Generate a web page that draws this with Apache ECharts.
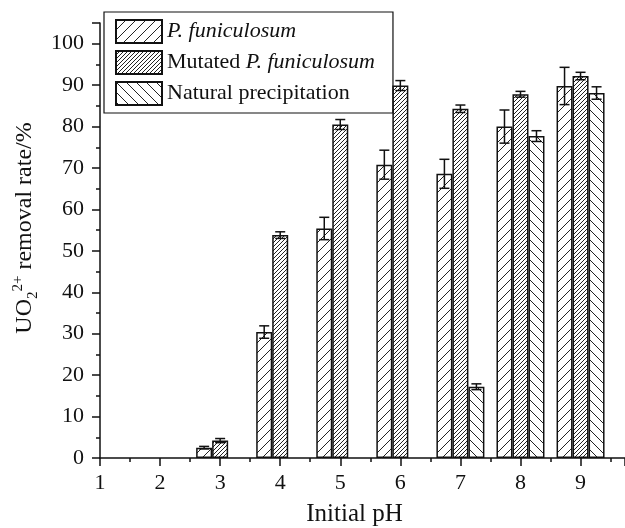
<!DOCTYPE html>
<html>
<head>
<meta charset="utf-8">
<script src="https://cdn.jsdelivr.net/npm/echarts@6/dist/echarts.min.js"></script>
<style>
  html, body { margin: 0; padding: 0; background: #fff; }
  #chart { width: 625px; height: 528px; }
</style>
</head>
<body>
<div id="chart"></div>
<script>
// pH values and removal rates (%), with error bar half-widths
const phFun = [3, 4, 5, 6, 7, 8, 9]
const funMean = [2.5, 30.4, 55.4, 70.8, 68.6, 80.0, 89.8]
const funErr = [0.3, 1.5, 2.7, 3.5, 3.5, 4.0, 4.5]

const phMut = [3, 4, 5, 6, 7, 8, 9]
const mutMean = [4.2, 53.8, 80.5, 89.9, 84.3, 87.8, 92.2]
const mutErr = [0.5, 0.8, 1.2, 1.2, 0.9, 0.7, 0.9]

const phNat = [7, 8, 9]
const natMean = [17.2, 77.7, 88.1]
const natErr = [0.7, 1.3, 1.5]

const names = ['P. funiculosum', 'Mutated P. funiculosum', 'Natural precipitation']
const font = 'Liberation Serif'
const barW = 16

// hatch patterns
function hatch (step, dir) {
  const c = document.createElement('canvas')
  c.width = step
  c.height = step
  const ctx = c.getContext('2d')
  ctx.fillStyle = '#fff'
  ctx.fillRect(0, 0, step, step)
  ctx.strokeStyle = '#222'
  ctx.lineWidth = 1
  ctx.beginPath()
  for (let k = -1; k <= 1; k++) {
    if (dir > 0) {
      ctx.moveTo(k * step, step)
      ctx.lineTo(k * step + step, 0)
    } else {
      ctx.moveTo(k * step, 0)
      ctx.lineTo(k * step + step, step)
    }
  }
  ctx.stroke()
  return { image: c, repeat: 'repeat' }
}

function pairs (xs, ys) {
  return xs.map((x, i) => [x, ys[i]])
}

function errSeries (xs, ys, es, offset) {
  return {
    type: 'custom',
    silent: true,
    z: 5,
    data: xs.map((x, i) => [x, ys[i], es[i]]),
    renderItem: function (params, api) {
      const x = api.value(0)
      const y = api.value(1)
      const e = api.value(2)
      const top = api.coord([x, y + e])
      const bot = api.coord([x, y - e])
      const cx = top[0] + offset
      const hw = 5
      const style = { stroke: '#111', lineWidth: 1.5 }
      return {
        type: 'group',
        children: [
          { type: 'line', shape: { x1: cx, y1: top[1], x2: cx, y2: bot[1] }, style: style },
          { type: 'line', shape: { x1: cx - hw, y1: top[1], x2: cx + hw, y2: top[1] }, style: style },
          { type: 'line', shape: { x1: cx - hw, y1: bot[1], x2: cx + hw, y2: bot[1] }, style: style }
        ]
      }
    }
  }
}

const patterns = [hatch(10, 1), hatch(4, 1), hatch(10, -1)]

const chart = echarts.init(document.getElementById('chart'))
const option = {
  animation: false,
  textStyle: { fontFamily: font },
  grid: { left: 100, right: 0, top: 23, bottom: 70, containLabel: false, outerBoundsMode: 'none' },
  legend: {
    orient: 'vertical',
    left: 104,
    top: 12,
    data: names,
    padding: [7, 18, 7, 11],
    borderColor: '#111',
    borderWidth: 1.2,
    itemWidth: 46,
    itemHeight: 23,
    itemGap: 6,
    icon: 'rect',
    textStyle: {
      fontFamily: font,
      fontSize: 22,
      color: '#111',
      rich: {
        i: { fontFamily: font, fontSize: 22, fontStyle: 'italic', color: '#111' }
      }
    },
    formatter: function (name) {
      if (name === 'P. funiculosum') return '{i|P. funiculosum}'
      if (name === 'Mutated P. funiculosum') return 'Mutated {i|P. funiculosum}'
      return name
    }
  },
  xAxis: {
    type: 'value',
    min: 1,
    max: 9.74,
    interval: 1,
    name: 'Initial pH',
    nameLocation: 'middle',
    nameGap: 44,
    nameTextStyle: { fontFamily: font, fontSize: 25, color: '#111', padding: [0, 16, 0, 0] },
    axisLine: { onZero: false, lineStyle: { color: '#111', width: 1.5 } },
    axisTick: { length: 8, lineStyle: { color: '#111', width: 1.5 } },
    minorTick: { show: true, splitNumber: 2, length: 4, lineStyle: { color: '#111', width: 1.5 } },
    axisLabel: {
      fontFamily: font,
      fontSize: 22,
      color: '#111',
      margin: 14,
      showMaxLabel: false,
      formatter: function (v) { return Number.isInteger(v) ? String(v) : '' }
    },
    splitLine: { show: false }
  },
  yAxis: {
    type: 'value',
    min: 0,
    max: 105,
    interval: 10,
    name: 'UO{sub|2}{sup|2+} removal rate/%',
    nameLocation: 'middle',
    nameGap: 50,
    nameTextStyle: {
      fontFamily: font,
      fontSize: 24,
      color: '#111',
      padding: [0, 0, 0, 25],
      rich: {
        sub: { fontFamily: font, fontSize: 15, color: '#111', padding: [15, 0, 0, 0] },
        sup: { fontFamily: font, fontSize: 15, color: '#111', padding: [0, 0, 15, 0] }
      }
    },
    axisLine: { show: true, lineStyle: { color: '#111', width: 1.5 } },
    axisTick: { show: true, length: 8, lineStyle: { color: '#111', width: 1.5 } },
    minorTick: { show: true, splitNumber: 2, length: 4, lineStyle: { color: '#111', width: 1.5 } },
    axisLabel: {
      fontFamily: font,
      fontSize: 22,
      color: '#111',
      margin: 16,
      showMaxLabel: false,
      formatter: function (v) { return v % 10 === 0 ? String(v) : '' }
    },
    splitLine: { show: false }
  },
  series: [
    {
      name: names[0],
      type: 'bar',
      barWidth: barW,
      barGap: '0%',
      data: pairs(phFun, funMean),
      itemStyle: { color: patterns[0], borderColor: '#111', borderWidth: 1.5 }
    },
    {
      name: names[1],
      type: 'bar',
      barWidth: barW,
      barGap: '0%',
      data: pairs(phMut, mutMean),
      itemStyle: { color: patterns[1], borderColor: '#111', borderWidth: 1.5 }
    },
    {
      name: names[2],
      type: 'bar',
      barWidth: barW,
      barGap: '0%',
      data: pairs(phNat, natMean),
      itemStyle: { color: patterns[2], borderColor: '#111', borderWidth: 1.5 }
    },
    errSeries(phFun, funMean, funErr, -barW),
    errSeries(phMut, mutMean, mutErr, 0),
    errSeries(phNat, natMean, natErr, barW)
  ]
}
chart.setOption(option)
</script>
</body>
</html>
